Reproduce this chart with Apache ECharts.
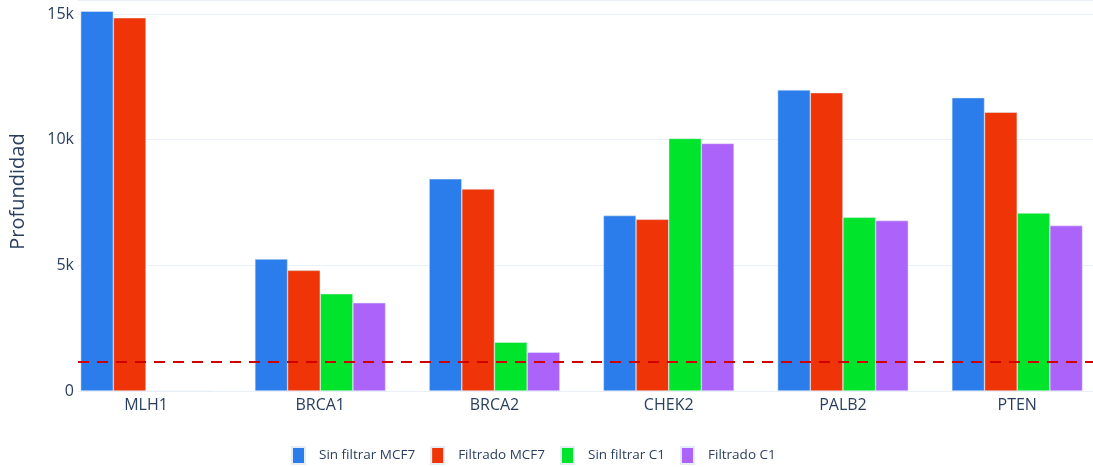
<!DOCTYPE html>
<html>
<head>
<meta charset="utf-8">
<script src="https://cdn.jsdelivr.net/npm/echarts@6/dist/echarts.min.js"></script>
<style>html,body{margin:0;padding:0;background:#fff;}#c{width:1093px;height:467px;}</style>
</head>
<body>
<div id="c"></div>
<script>
const categories = ['MLH1', 'BRCA1', 'BRCA2', 'CHEK2', 'PALB2', 'PTEN'];
const sinFiltrarMCF7 = [15110, 5250, 8440, 6980, 11980, 11670];
const filtradoMCF7 = [14850, 4800, 8040, 6830, 11870, 11090];
const sinFiltrarC1 = [0, 3870, 1940, 10050, 6910, 7080];
const filtradoC1 = [0, 3510, 1540, 9850, 6780, 6580];
const threshold = 1150;
const yTicks = [0, 5000, 10000, 15000];
const yTickLabels = ['0', '5k', '10k', '15k'];

const FONT = '"Open Sans", sans-serif';
const TXT = '#2a3f5f';
const YMAX = 15557;

const chart = echarts.init(document.getElementById('c'), null, {renderer: 'canvas'});
function mk(name, data, color) {
  return {
    name: name, type: 'bar', data: data, xAxisIndex: 0, yAxisIndex: 0,
    barGap: '0%', barCategoryGap: '25%', clip: false,
    itemStyle: {color: color, borderColor: '#E5ECF6', borderWidth: 0.5},
    emphasis: {disabled: true}, z: 3
  };
}
chart.setOption({
  animation: false,
  textStyle: {fontFamily: FONT},
  grid: [
    {left: 146, width: 871.2, top: 0, height: 391, containLabel: false},
    {left: 78, right: 0, top: 0, height: 391, containLabel: false}
  ],
  xAxis: [
    {type: 'category', gridIndex: 0, data: categories, boundaryGap: false,
     axisLine: {show: false}, axisTick: {show: false}, splitLine: {show: false},
     axisLabel: {color: TXT, fontSize: 16, margin: 6, fontFamily: FONT}},
    {type: 'value', gridIndex: 1, min: 0, max: 1, show: false}
  ],
  yAxis: [
    {type: 'value', gridIndex: 0, min: 0, max: YMAX, interval: 5000, show: false},
    {type: 'value', gridIndex: 1, min: 0, max: YMAX, interval: 5000,
     name: 'Profundidad', nameLocation: 'middle', nameGap: 50,
     nameTextStyle: {color: TXT, fontSize: 20, fontFamily: FONT, padding: [0, 0, 0, 8]},
     axisLine: {show: false}, axisTick: {show: false},
     splitLine: {show: true, lineStyle: {color: '#EBF0F8', width: 1}},
     axisLabel: {color: TXT, fontSize: 16, margin: 4, fontFamily: FONT,
       formatter: function (v) { const i = yTicks.indexOf(v); return i >= 0 ? yTickLabels[i] : ''; }}}
  ],
  legend: {
    left: 286, top: 441, itemWidth: 13, itemHeight: 17, itemGap: 15,
    icon: 'rect',
    textStyle: {color: TXT, fontSize: 13.5, fontFamily: FONT, padding: [0, 0, 0, 9]},
    data: ['Sin filtrar MCF7', 'Filtrado MCF7', 'Sin filtrar C1', 'Filtrado C1']
  },
  series: [
    mk('Sin filtrar MCF7', sinFiltrarMCF7, '#2A7DEA'),
    mk('Filtrado MCF7', filtradoMCF7, '#EF3508'),
    mk('Sin filtrar C1', sinFiltrarC1, '#00E52B'),
    mk('Filtrado C1', filtradoC1, '#AB63FA'),
    {name: 'umbral', type: 'line', xAxisIndex: 1, yAxisIndex: 1,
     data: [[0, threshold], [1, threshold]], symbol: 'none', z: 10,
     lineStyle: {color: '#D10000', width: 2, type: [11, 8]}, emphasis: {disabled: true}}
  ]
});
</script>
</body>
</html>
